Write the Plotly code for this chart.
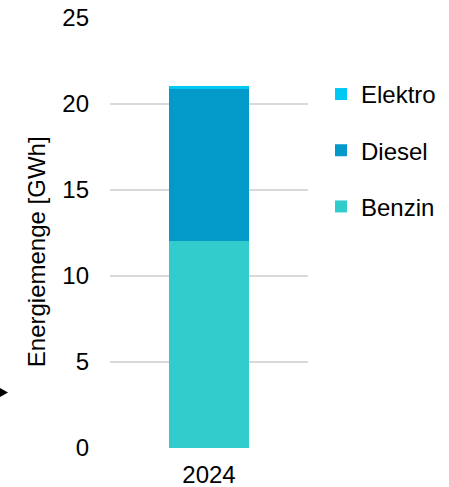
import plotly.graph_objects as go

categories = ["2024"]
benzin = [12.03]
diesel = [8.84]
elektro = [0.18]
series_names = ["Benzin", "Diesel", "Elektro"]
colors = ["#33CCCC", "#0399C9", "#00C8F5"]
legend_ranks = [3, 2, 1]
y_ticks = [0, 5, 10, 15, 20, 25]

FONT = "Liberation Sans, Arial, sans-serif"
FS = 24

fig = go.Figure()
for name, vals, col, rk in zip(series_names, [benzin, diesel, elektro], colors, legend_ranks):
    fig.add_trace(go.Bar(x=categories, y=vals, name=name, marker_color=col,
                         marker_line_width=0, legendgroup=name, legendrank=rk))

fig.update_layout(
    barmode="stack",
    bargap=0.596,
    width=449, height=487,
    margin=dict(l=110, r=141, t=18, b=39, autoexpand=False),
    paper_bgcolor="white", plot_bgcolor="white",
    font=dict(family=FONT, size=FS, color="#000000"),
    showlegend=True,
    legend=dict(x=1.0657, y=0.692, xanchor="left", yanchor="middle",
                traceorder="grouped", tracegroupgap=22,
                font=dict(family=FONT, size=FS, color="#000000"),
                bgcolor="rgba(0,0,0,0)"),
    xaxis=dict(showgrid=False, showline=False, zeroline=False, ticks="", automargin=False,
               tickfont=dict(size=FS), ticklabelstandoff=10),
    yaxis=dict(range=[0, 25], tickvals=y_ticks, showgrid=True, gridcolor="#D9D9D9",
               gridwidth=1.5, zeroline=False, showline=False, ticks="", automargin=False,
               tickfont=dict(size=FS), ticklabelstandoff=20),
    annotations=[dict(text="Energiemenge [GWh]", textangle=-90, xref="paper", yref="paper",
                      x=-0.37, y=0.457, xanchor="center", yanchor="middle", showarrow=False,
                      font=dict(family=FONT, size=FS, color="#000000"))],
    shapes=[dict(type="path", xref="paper", yref="paper",
                 path="M -0.5556,0.1395 L -0.5152,0.129 L -0.5556,0.1186 Z",
                 fillcolor="black", line=dict(width=0))],
)

fig.write_html("out.html")
